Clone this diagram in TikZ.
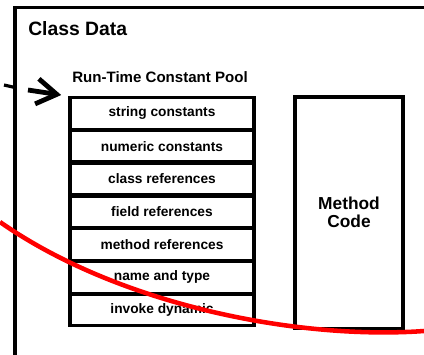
\documentclass[tikz,border=0pt]{standalone}
\usepackage{fontspec}
\setmainfont{Liberation Sans}
\usetikzlibrary{arrows.meta, positioning}

\begin{document}
\begin{tikzpicture}[x=0.75pt, y=-0.75pt,
  frame/.style={line width=2.4pt},
  poolbox/.style={draw, line width=2.3pt, minimum width=138pt, minimum height=23.6pt,
    inner sep=0pt, font=\fontsize{10.3}{12}\selectfont\bfseries},
  codebox/.style={draw, line width=2.3pt, minimum width=81pt, minimum height=173.6pt,
    inner sep=0pt, align=center, font=\fontsize{13}{13.5}\selectfont\bfseries},
  curve/.style={red, line width=3.4pt}]

\clip (0,0) rectangle (424,354);

% outer class data frame, runs off the page
\draw[frame] (15,370) |- (440,7.5);
\node[anchor=base west, inner sep=0pt, font=\fontsize{14.5}{16}\selectfont\bfseries] (title) at (28,35) {Class Data};

\coordinate (in1) at (4,85);
\coordinate (in2) at (15,87.5);
\draw[frame] (in1) -- (in2);

\node[anchor=base west, inner sep=0pt, font=\fontsize{11.3}{13}\selectfont\bfseries] (pooltitle) at (72,82) {Run-Time Constant Pool};

\foreach \name/\txt [count=\i from 0] in {str/string constants, num/numeric constants,
  cls/class references, fld/field references, mth/method references,
  nat/name and type, ind/invoke dynamic}
  \node[poolbox] (\name) at (162,113.4+32.8*\i) {\txt};

\node[codebox] (code) at (349,212.7) {Method\\Code};

\coordinate (tail) at (28,90);
\draw[line width=3.6pt, -{Straight Barb[length=15pt, width=19pt]}, shorten >=5.5pt] (tail) -- (str.north west);

\draw[curve] (0,222) .. controls (120,306) and (300,340) .. (424,331);

\end{tikzpicture}
\end{document}
